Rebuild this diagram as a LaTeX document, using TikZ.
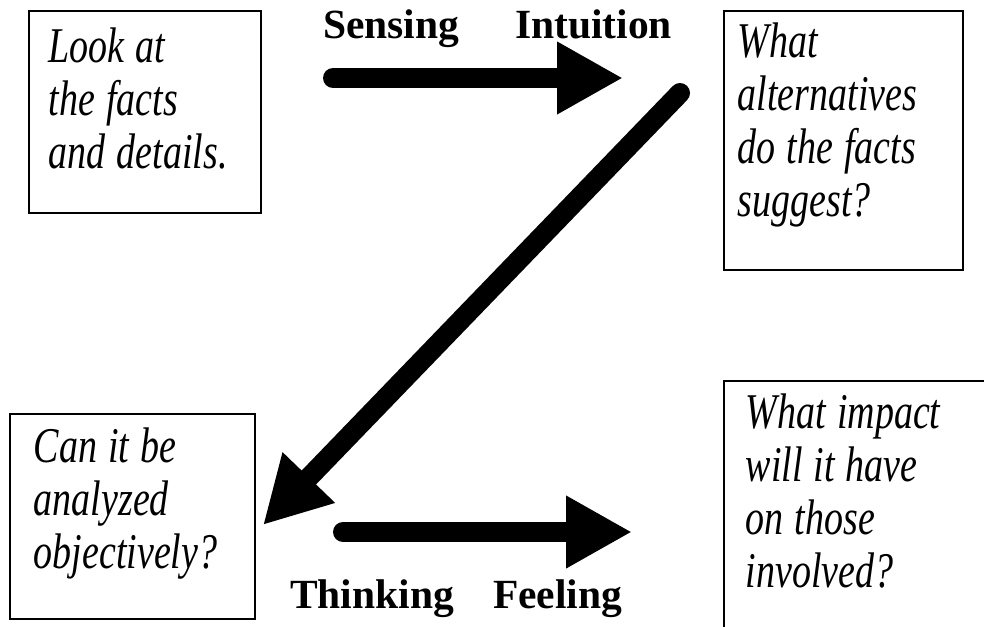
\documentclass[tikz,border=0pt]{standalone}
\usepackage{fontspec}
\setmainfont{Liberation Serif}
\newfontfamily\narrowserif[FakeStretch=0.76]{Liberation Serif}
\usetikzlibrary{arrows.meta,positioning,calc}

\begin{document}
\begin{tikzpicture}[x=1pt, y=-1pt, >={Triangle[length=66pt,width=68pt]}]
\tikzstyle{qbox}=[draw, line width=1.6pt, anchor=north west, align=left, inner ysep=0pt, font=\narrowserif\itshape\fontsize{50}{53}\selectfont, execute at begin node={\spaceskip=11pt\relax}]
\tikzstyle{pole}=[anchor=base west, inner sep=0pt, font=\bfseries\fontsize{41.5}{45}\selectfont]
\tikzstyle{flow}=[->, line width=20pt, line cap=round]
\useasboundingbox (0,0) rectangle (984,626);
% question boxes
\node[qbox, text width=192pt, inner xsep=20pt, text height=52pt, text depth=150pt] (look) at (28,10) {Look at\\the facts\\and details.};
\node[qbox, text width=211pt, inner xsep=14pt, text height=47pt, text depth=212pt] (alter) at (723,10) {What\\alternatives\\do the facts\\suggest?};
\node[qbox, text width=197pt, inner xsep=24pt, text height=49pt, text depth=156pt] (analyze) at (9,413) {Can it be\\analyzed\\objectively?};
\node[qbox, text width=256pt, inner xsep=22pt, text height=48pt, text depth=232pt] (impact) at (723,380) {What impact\\will it have\\on those\\involved?};
% poles
\node[pole] (sensing) at (323,38) {Sensing};
\node[pole] (intuition) at (515,38) {Intuition};
\node[pole] (thinking) at (290,608) {Thinking};
\node[pole] (feeling) at (493,608) {Feeling};
% arrow ends
\coordinate (s0) at (333,78);
\coordinate (s1) at (623,78);
\coordinate (d0) at (680,93);
\coordinate (d1) at (263,525);
\coordinate (t0) at (343,532);
\coordinate (t1) at (632,532);
\draw[flow] (s0) -- (s1);
\draw[flow] (d0) -- (d1);
\draw[flow] (t0) -- (t1);
\end{tikzpicture}
\end{document}
